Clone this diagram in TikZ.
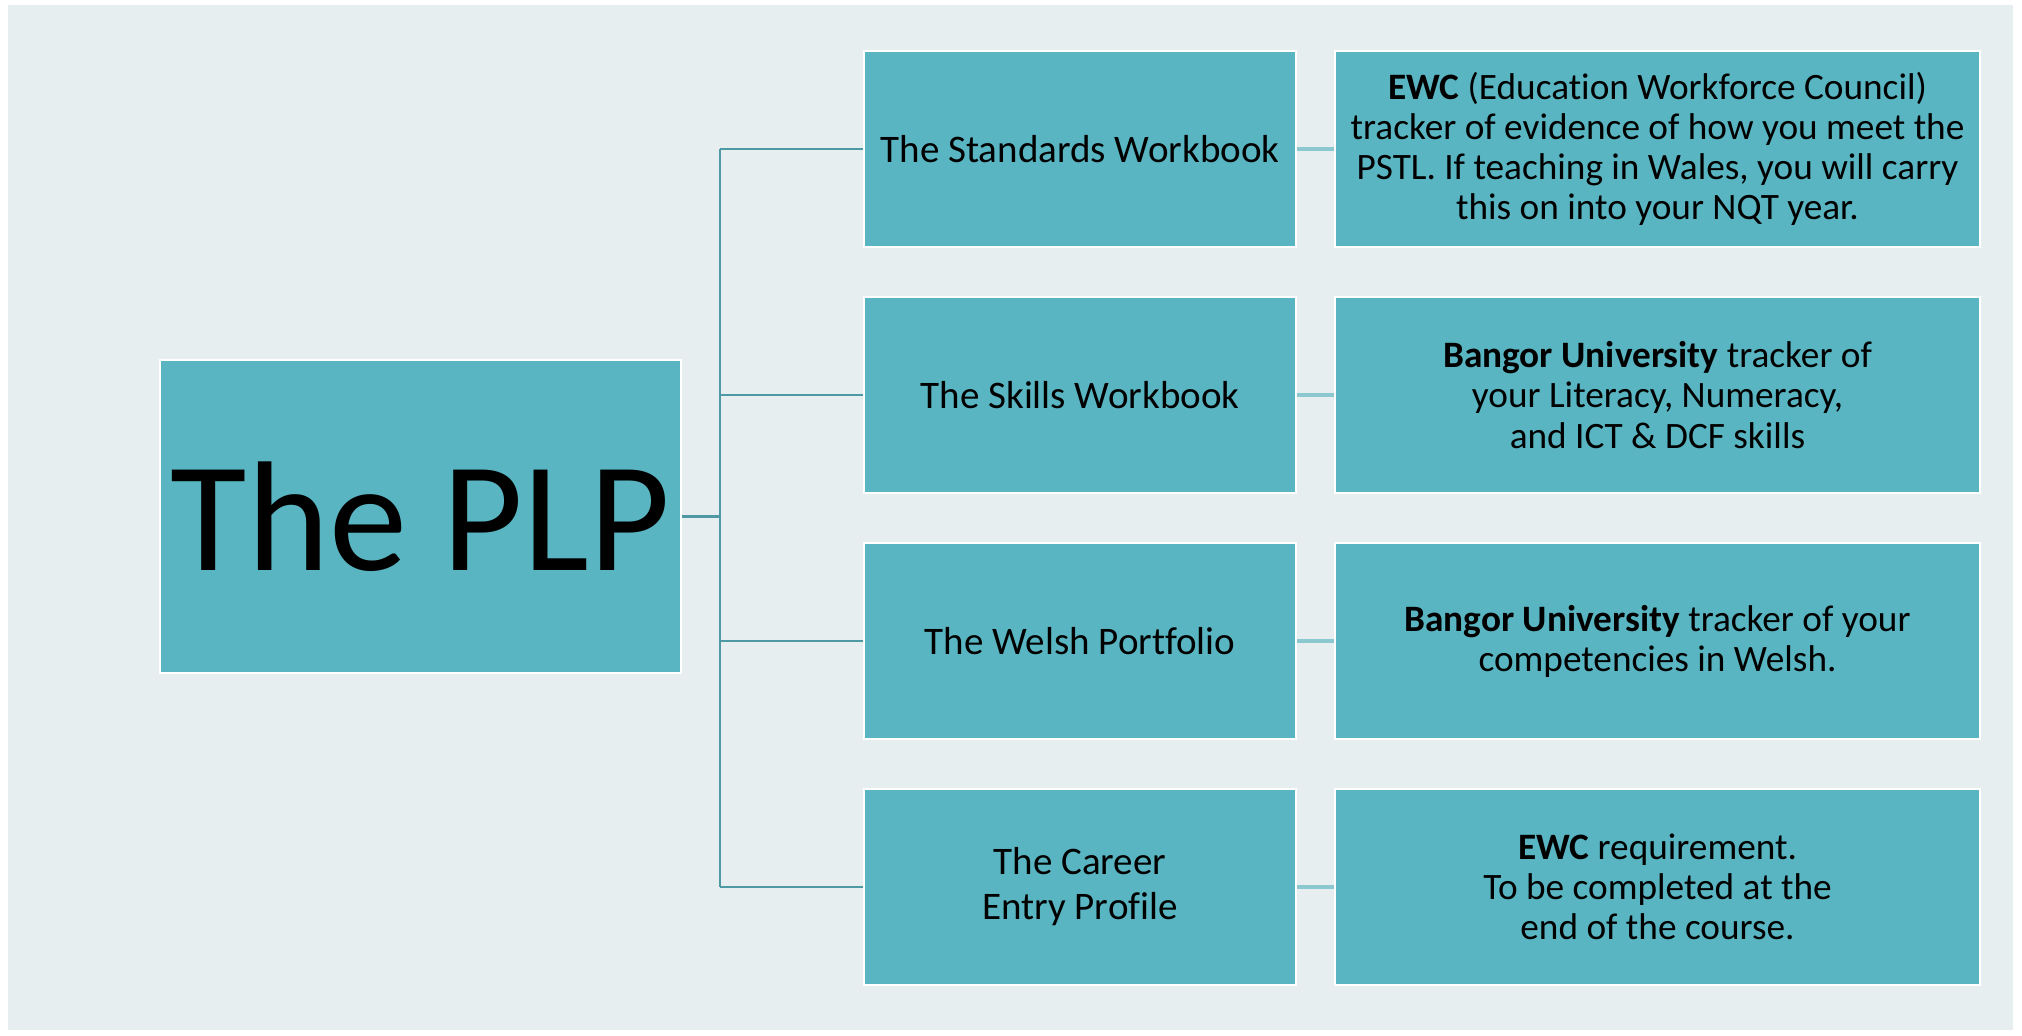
\documentclass[tikz,border=0pt]{standalone}
\usepackage{fontspec}
\setmainfont{Carlito}[Ligatures={NoCommon}]
\definecolor{bgc}{RGB}{230,238,240}
\definecolor{boxc}{RGB}{89,181,193}
\definecolor{treec}{RGB}{78,153,163}
\definecolor{linkc}{RGB}{140,200,208}
\begin{document}
\begin{tikzpicture}[x=0.01cm,y=-0.01cm,
  box/.style={draw=white, line width=0.6pt, fill=boxc, inner sep=0pt, align=center, text=black},
  lbox/.style={box, minimum width=4.32cm, minimum height=1.96cm, font=\fontsize{11.1}{12.8}\selectfont},
  rbox/.style={box, minimum width=6.45cm, minimum height=1.96cm, font=\fontsize{10.6}{11.4}\selectfont},
  tree/.style={draw=treec, line width=0.7pt},
  link/.style={draw=linkc, line width=0.9pt}]
\useasboundingbox (0,0) rectangle (2022,1035);
\fill[bgc] (8,5) rectangle (2013,1030);

\node[box, minimum width=5.21cm, minimum height=3.13cm, font=\fontsize{44.5}{50}\selectfont] (plp) at (420.5,516.5) {The PLP};

\node[lbox] (a1) at (1080,149) {The Standards Workbook};
\node[lbox] (a2) at (1080,395) {The Skills Workbook};
\node[lbox] (a3) at (1080,641) {The Welsh Portfolio};
\node[lbox] (a4) at (1080,887) {The Career\\Entry Profile};

\node[rbox] (b1) at (1657.5,149) {\textbf{EWC} (Education Workforce Council)\\tracker of evidence of how you meet the\\PSTL. If teaching in Wales, you will carry\\this on into your NQT year.};
\node[rbox] (b2) at (1657.5,395) {\textbf{Bangor University} tracker of\\your Literacy, Numeracy,\\and ICT \& DCF skills};
\node[rbox] (b3) at (1657.5,641) {\textbf{Bangor University} tracker of your\\competencies in Welsh.};
\node[rbox] (b4) at (1657.5,887) {\textbf{EWC} requirement.\\To be completed at the\\end of the course.};

\coordinate (tx) at (720,516.5);
\draw[tree] (plp.east) -- (tx);
\draw[tree] (tx |- a1.west) -- (tx |- a4.west);
\foreach \i in {1,2,3,4} {
  \draw[tree] (tx |- a\i.west) -- (a\i.west);
  \draw[link] (a\i.east) -- (b\i.west);
}
\end{tikzpicture}
\end{document}
